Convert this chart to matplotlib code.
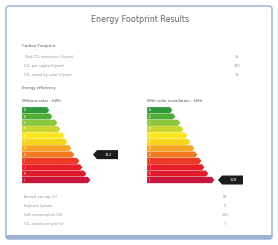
import numpy as np
import matplotlib.pyplot as plt
from matplotlib.patches import FancyBboxPatch, Polygon

TITLE = 'Energy Footprint Results'
CARBON_HEADER = 'Carbon Footprint'
CARBON_LABELS = ['Total CO\u2082 emissions (t/year)', 'CO\u2082 per capita (t/year)',
                 'CO\u2082 saved by solar (t/year)']
CARBON_VALUES = ['25', '240', '18']
EFFICIENCY_HEADER = 'Energy efficiency'
CHART_TITLES = ['Without solar - kWh', 'With solar installation - kWh']

# energy bands, best (top) to worst (bottom)
BAND_COLORS = ['#2f9a3c', '#4fae3a', '#8cc63e', '#c9d62e', '#fbe71c', '#f7d51c',
               '#f5a623', '#f07a22', '#ee3a24', '#ec1c24', '#e01b2c', '#c8163a']
BAND_WIDTHS_LEFT = [25, 28, 33, 36, 40, 43, 47, 50, 55, 58, 62, 66]
BAND_WIDTHS_RIGHT = [23, 26, 31, 34, 38, 41, 45, 48, 52, 55, 59, 65]
RATING_INDEX = [7, 11]
RATING_TEXT = ['312', '128']

SUMMARY_LABELS = ['Annual savings (\u20ac)', 'Payback (years)', 'Self-consumption (%)',
                  'CO\u2082 saved per year (t)']
SUMMARY_VALUES = ['80', '5', '180', '7']

fig = plt.figure(figsize=(2.78, 2.45), dpi=100)
ax = fig.add_axes([0, 0, 1, 1])
ax.set_xlim(0, 278)
ax.set_ylim(245, 0)
ax.axis('off')

# card
ax.add_patch(FancyBboxPatch((6, 6), 266, 233, boxstyle='round,pad=0,rounding_size=3',
                            fc='white', ec='#a8bcdc', lw=1.2))
ax.add_patch(plt.Rectangle((6, 235), 266, 4, fc='#9db4d8', ec='none'))

grey = '#909090'
ax.text(140, 19, TITLE, ha='center', va='center', fontsize=5.8, color='#666666')

ax.text(22, 46, CARBON_HEADER, fontsize=2.8, color='#555555', va='center')
for i, (lab, val) in enumerate(zip(CARBON_LABELS, CARBON_VALUES)):
    y = 57 + i * 9
    ax.text(24, y, lab, fontsize=2.5, color=grey, va='center')
    ax.text(237, y, val, fontsize=2.5, color=grey, va='center', ha='center')
ax.text(22, 88, EFFICIENCY_HEADER, fontsize=2.8, color='#555555', va='center')

band_h = 6.35
chart_x = [22, 147]
for c, widths in enumerate([BAND_WIDTHS_LEFT, BAND_WIDTHS_RIGHT]):
    x0 = chart_x[c]
    ax.text(x0, 101, CHART_TITLES[c], fontsize=2.8, color='#555555', va='center')
    for i, (w, col) in enumerate(zip(widths, BAND_COLORS)):
        y = 107 + i * band_h
        ax.add_patch(Polygon([(x0, y), (x0 + w, y), (x0 + w + 2.5, y + band_h / 2),
                              (x0 + w, y + band_h), (x0, y + band_h)],
                             closed=True, fc=col, ec='white', lw=0.15))
        ax.text(x0 + 2, y + band_h / 2, chr(65 + i), fontsize=2, color='white',
                va='center')
    # rating marker
    r = RATING_INDEX[c]
    ym = 107 + r * band_h + band_h / 2
    xm = x0 + max(widths) + 6 if c == 1 else x0 + 71
    ax.add_patch(Polygon([(xm, ym), (xm + 4, ym - 4.5), (xm + 25, ym - 4.5),
                          (xm + 25, ym + 4.5), (xm + 4, ym + 4.5)],
                         closed=True, fc='#1b1b1b', ec='none'))
    ax.text(xm + 15, ym, RATING_TEXT[c], fontsize=2.8, color='white',
            ha='center', va='center')

for i, (lab, val) in enumerate(zip(SUMMARY_LABELS, SUMMARY_VALUES)):
    y = 197 + i * 9
    ax.text(24, y, lab, fontsize=2.5, color=grey, va='center')
    ax.text(225, y, val, fontsize=2.5, color=grey, va='center', ha='center')

fig.savefig('out.png', dpi=100, facecolor='white')
